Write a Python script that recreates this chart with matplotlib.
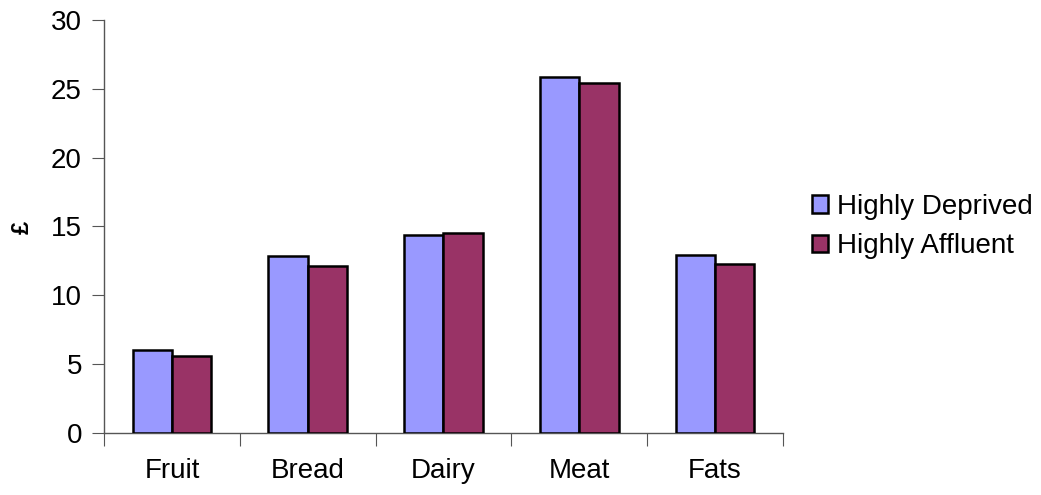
import matplotlib.pyplot as plt
import numpy as np

categories = ['Fruit', 'Bread', 'Dairy', 'Meat', 'Fats']
deprived = [6.0, 12.85, 14.35, 25.85, 12.95]
affluent = [5.6, 12.1, 14.55, 25.4, 12.25]
series_names = ['Highly Deprived', 'Highly Affluent']

plt.rcParams['font.family'] = ['Liberation Sans', 'DejaVu Sans']

fig = plt.figure(figsize=(10.41, 4.95), dpi=100)
ax = fig.add_axes([0.1, 0.125, 0.652, 0.835])

x = np.arange(len(categories))
w = 0.29
ax.bar(x - w / 2, deprived, w, color='#9999ff', edgecolor='black', linewidth=1.8,
       label=series_names[0], zorder=3)
ax.bar(x + w / 2, affluent, w, color='#993366', edgecolor='black', linewidth=1.8,
       label=series_names[1], zorder=3)

ax.set_xlim(-0.5, len(categories) - 0.5)
ax.set_ylim(0, 30)
ax.set_yticks(range(0, 31, 5))

# boundaries get tick marks, centres get the labels
ax.set_xticks(np.arange(-0.5, len(categories)), labels=[])
ax.set_xticks(x, labels=categories, minor=True)
ax.tick_params(axis='x', which='major', length=9, direction='out', color='#555555')
ax.tick_params(axis='x', which='minor', length=0, pad=18, labelsize=20)
ax.tick_params(axis='y', length=9, direction='out', color='#555555', labelsize=20, pad=7)

for side in ['top', 'right']:
    ax.spines[side].set_visible(False)
for side in ['left', 'bottom']:
    ax.spines[side].set_color('#555555')
    ax.spines[side].set_linewidth(1.0)

# y label placed in figure coords so it stays inside the canvas
fig.text(0.021, 0.541, '£', rotation=90, fontsize=17, fontweight='bold',
         ha='center', va='center')

leg = ax.legend(loc='center left', bbox_to_anchor=(1.026, 0.5), frameon=False,
                borderaxespad=0, fontsize=20, handlelength=0.6, handleheight=0.6,
                handletextpad=0.3, labelspacing=0.5)

plt.savefig('out.png', dpi=100)
